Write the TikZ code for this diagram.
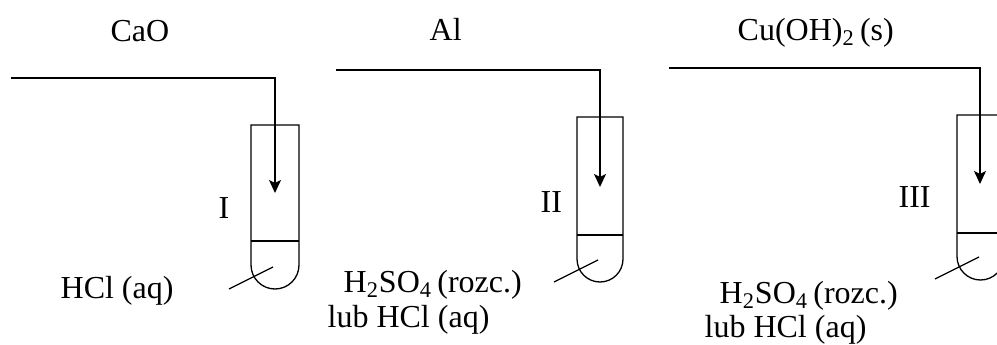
\documentclass[tikz,border=0pt]{standalone}
\usepackage{fontspec}
\setmainfont{Liberation Serif}
\usetikzlibrary{arrows.meta,positioning}

\begin{document}
\begin{tikzpicture}[x=0.5pt, y=0.5pt, line width=0.65pt,
        chem/.style={anchor=base west, inner sep=0pt, font=\fontsize{16}{19}\selectfont},
        feed/.style={-{Stealth[length=6.5pt,width=6pt,inset=1.5pt]}}]
        \clip (0,0) rectangle (997,344);

        % tube I
        \draw (251,219) -- (251,79) arc (180:360:24) -- (299,219) -- cycle;
        \draw (251,103) -- (299,103);
        \coordinate (startI) at (11,266);
        \coordinate (bendI) at (275,266);
        \coordinate (tipI) at (275,151);
        \draw[feed] (startI) -- (bendI) -- (tipI);
        \node[chem] (caoI) at (110,303) {CaO};
        \node[chem] (numI) at (218,126) {I};
        \node[chem] (acidI) at (60,46) {HCl (aq)};
        \coordinate (ptrI) at (229,55);
        \coordinate (liqI) at (273,77);
        \draw (ptrI) -- (liqI);

        % tube II
        \draw (577,227) -- (577,85) arc (180:360:23) -- (623,227) -- cycle;
        \draw (577,109) -- (623,109);
        \coordinate (startII) at (336,274);
        \coordinate (bendII) at (600,274);
        \coordinate (tipII) at (600,157);
        \draw[feed] (startII) -- (bendII) -- (tipII);
        \node[chem] (alII) at (429,304) {Al};
        \node[chem] (numII) at (540,132) {II};
        \node[chem] (acidII) at (343,52) {H\textsubscript{2}SO\textsubscript{4}\,(rozc.)};
        \node[chem] (altII) at (327,17) {lub HCl (aq)};
        \coordinate (ptrII) at (554,62);
        \coordinate (liqII) at (598,84);
        \draw (ptrII) -- (liqII);

        % tube III
        \draw (957,229) -- (957,87.5) arc (180:360:23.5) -- (1004,229) -- cycle;
        \draw (957,111) -- (1004,111);
        \coordinate (startIII) at (669,276);
        \coordinate (bendIII) at (980,276);
        \coordinate (tipIII) at (980,160);
        \draw[feed] (startIII) -- (bendIII) -- (tipIII);
        \node[chem] (cuIII) at (737,304) {Cu(OH)\textsubscript{2}\,(s)};
        \node[chem] (numIII) at (898,137) {III};
        \node[chem] (acidIII) at (719,41) {H\textsubscript{2}SO\textsubscript{4}\,(rozc.)};
        \node[chem] (altIII) at (704,7) {lub HCl (aq)};
        \coordinate (ptrIII) at (935,65);
        \coordinate (liqIII) at (979,87);
        \draw (ptrIII) -- (liqIII);
\end{tikzpicture}
\end{document}
